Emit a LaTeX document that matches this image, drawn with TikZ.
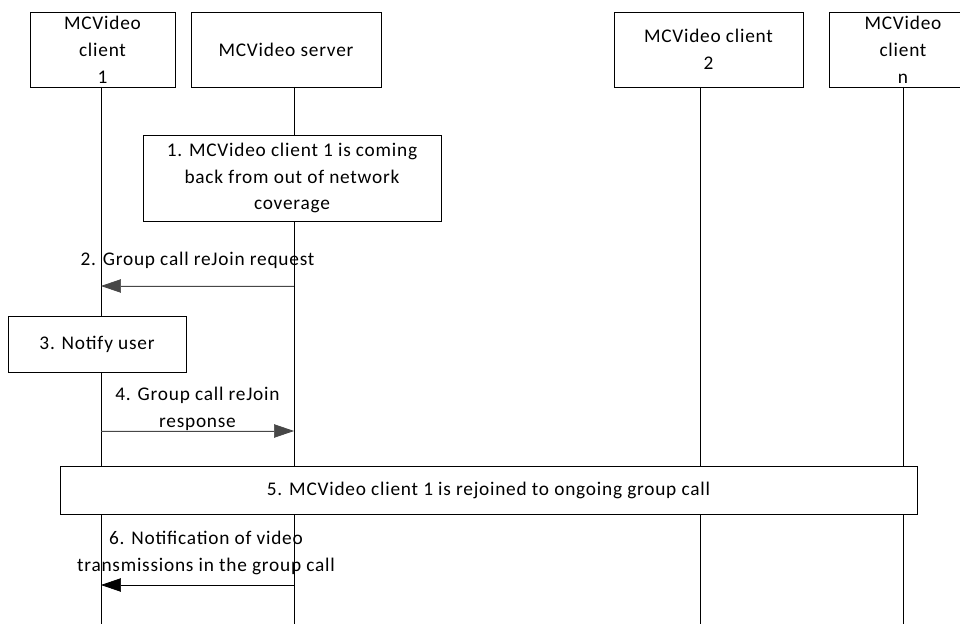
\documentclass[tikz,border=0pt]{standalone}
\usepackage{fontspec}
\setmainfont{Carlito}[LetterSpace=4]
\usetikzlibrary{arrows.meta,calc,positioning}

\begin{document}
\begin{tikzpicture}[x=0.02cm, y=-0.02cm, font=\fontsize{11}{15.3}\selectfont,
  block/.style={rectangle,draw,fill=white,align=center,inner sep=2pt},
  msg/.style={-{Triangle[length=0.4cm,width=0.27cm]},draw=black!72,fill=black!72},
  lbl/.style={align=center,inner sep=0pt}]
\useasboundingbox (0,0) rectangle (960,624);

% entities
\node[block,minimum width=2.9cm,minimum height=1.5cm] (cl1) at (102.5,49.5) {MCVideo\\client\\1};
\node[block,minimum width=3.8cm,minimum height=1.5cm] (srv) at (286,49.5) {MCVideo server};
\node[block,minimum width=3.78cm,minimum height=1.5cm] (cl2) at (708.5,49.5) {MCVideo client\\2};
\node[block,minimum width=2.96cm,minimum height=1.5cm] (cln) at (903,49.5) {MCVideo\\client\\n};

% lifelines
\coordinate (l1) at (101,87);
\coordinate (ls) at (294,87);
\coordinate (l2) at (700,87);
\coordinate (ln) at (903,87);
\coordinate (bottom) at (0,624);
\foreach \l in {l1,ls,l2,ln}
  \draw (\l) -- (\l |- bottom);

% steps
\node[block,minimum width=5.96cm,minimum height=1.72cm] (step1) at (292,178)
  {1. MCVideo client 1 is coming\\back from out of network\\coverage};

\coordinate (m2) at (0,286);
\draw[msg] (ls |- m2) -- (l1 |- m2)
  node[lbl,midway,above=0.35cm] (t2) {2. Group call reJoin request};

\node[block,minimum width=3.56cm,minimum height=1.12cm] (step3) at (97,344) {3. Notify user};

\coordinate (m4) at (0,431);
\draw[msg] (l1 |- m4) -- (ls |- m4)
  node[lbl,midway,above=0cm] (t4) {4. Group call reJoin\\response};

\node[block,minimum width=17.14cm,minimum height=0.96cm] (step5) at (488.5,490)
  {5. MCVideo client 1 is rejoined to ongoing group call};

\coordinate (m6) at (0,585);
\draw[msg,draw=black,fill=black] (ls |- m6) -- (l1 |- m6)
  node[lbl,midway,above=0.2cm,xshift=0.17cm] (t6) {6. Notification of video\\transmissions in the group call};

\end{tikzpicture}
\end{document}
